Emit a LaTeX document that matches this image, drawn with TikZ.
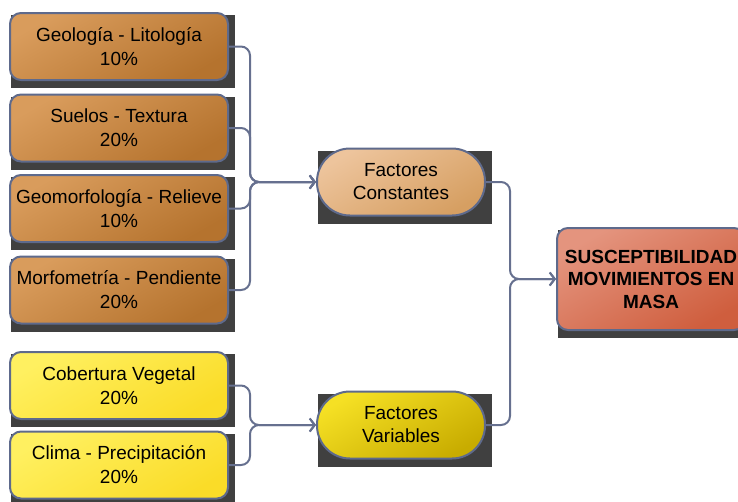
\documentclass[tikz,border=0pt]{standalone}
\usepackage{fontspec}
\setmainfont{Liberation Sans}
\usetikzlibrary{arrows.meta,calc,backgrounds}
\definecolor{bordc}{HTML}{5E6A8C}
\definecolor{connc}{HTML}{66708F}
\definecolor{shadc}{HTML}{404040}
\definecolor{brL}{HTML}{D99C5C}
\definecolor{brD}{HTML}{B5732E}
\definecolor{yeL}{HTML}{FFF060}
\definecolor{yeD}{HTML}{FADC28}
\definecolor{fcL}{HTML}{EDC49C}
\definecolor{fcD}{HTML}{D69F62}
\definecolor{fvL}{HTML}{F5E024}
\definecolor{fvD}{HTML}{C8AC00}
\definecolor{suL}{HTML}{E4947E}
\definecolor{suD}{HTML}{CF5E3E}
\tikzset{
  base/.style={draw=bordc, line width=2pt, align=center, inner sep=0pt, text=black,
    font=\fontsize{19}{24}\selectfont},
  factor/.style={base, rounded corners=11pt, minimum width=218pt, minimum height=67pt,
    top color=brL, bottom color=brD, shading angle=30},
  yfactor/.style={factor, top color=yeL, bottom color=yeD, shading angle=30},
  group/.style={base, rounded corners=33pt, minimum width=168pt, minimum height=67pt,
    font=\fontsize{19}{23}\selectfont},
  result/.style={base, rounded corners=11pt, minimum width=188pt, minimum height=102pt,
    font=\fontsize{19}{22.5}\selectfont\bfseries, top color=suL, bottom color=suD, shading angle=30},
  conn/.style={draw=connc, line width=2pt, rounded corners=9pt},
  tip/.style={-{Straight Barb[length=5pt,width=13pt,line width=2pt]}}
}
\newcommand{\shadowbox}[1]{%
  \fill[shadc] ($(#1.north west)+(2,3)$) rectangle ($(#1.south east)+(6,7)$);}
\begin{document}
\begin{tikzpicture}[x=1pt,y=-1pt]
\useasboundingbox (0,0) rectangle (738,501);
\clip (0,0) rectangle (738,501);
\node[factor] (b1) at (119,46.5) {Geología - Litología\\10\%};
\node[factor] (b2) at (119,128) {Suelos - Textura\\20\%};
\node[factor] (b3) at (119,208.5) {Geomorfología - Relieve\\10\%};
\node[factor] (b4) at (119,290) {Morfometría - Pendiente\\20\%};
\node[yfactor] (b5) at (119,385.5) {Cobertura Vegetal\\20\%};
\node[yfactor] (b6) at (119,465) {Clima - Precipitación\\20\%};
\node[group, top color=fcL, bottom color=fcD, shading angle=30] (fc) at (401,182) {Factores\\Constantes};
\node[group, top color=fvL, bottom color=fvD, shading angle=30] (fv) at (401,425) {Factores\\Variables};
\node[result] (sus) at (651,279) {SUSCEPTIBILIDAD\\MOVIMIENTOS EN\\MASA};
\begin{scope}[on background layer]
  \foreach \n in {b1,b2,b3,b4,b5,b6,fc,fv,sus} {\shadowbox{\n}}
\end{scope}
\coordinate (jx) at (250,0);
\coordinate (jy) at (510,0);
\foreach \n in {b1,b2,b3,b4} {
  \draw[conn, tip] (\n.east) -- (\n.east -| jx) -- (jx |- fc.west) -- (fc.west);
}
\foreach \n in {b5,b6} {
  \draw[conn, tip] (\n.east) -- (\n.east -| jx) -- (jx |- fv.west) -- (fv.west);
}
\foreach \n in {fc,fv} {
  \draw[conn, tip] (\n.east) -- (\n.east -| jy) -- (jy |- sus.west) -- (sus.west);
}
\end{tikzpicture}
\end{document}
